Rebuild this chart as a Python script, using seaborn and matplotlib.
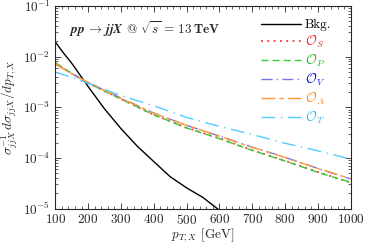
import numpy as np
import pandas as pd
import matplotlib
matplotlib.use("Agg")
import matplotlib.pyplot as plt
import seaborn as sns
from matplotlib.ticker import MultipleLocator, LogLocator, NullFormatter

# Data (pT in GeV, normalised distribution)
pt_bkg = [100, 125, 150, 175, 200, 250, 300, 350, 400, 450, 500, 550, 600]
bkg = [1.95e-2, 1.175e-2, 7.4e-3, 4.37e-3, 2.57e-3, 9.3e-4, 3.8e-4, 1.7e-4,
       8.5e-5, 4.27e-5, 2.57e-5, 1.66e-5, 9.3e-6]

pt_sig = [100, 150, 200, 300, 400, 500, 600, 700, 800, 900, 1000]
o_s = [7.4e-3, 4.6e-3, 3.0e-3, 1.45e-3, 7.1e-4, 3.95e-4, 2.45e-4, 1.42e-4, 8.8e-5, 5.3e-5, 3.25e-5]
o_p = [7.6e-3, 4.7e-3, 3.0e-3, 1.45e-3, 7.1e-4, 3.9e-4, 2.4e-4, 1.41e-4, 8.7e-5, 5.2e-5, 3.3e-5]
o_v = [7.1e-3, 4.6e-3, 3.1e-3, 1.52e-3, 7.7e-4, 4.4e-4, 2.7e-4, 1.63e-4, 1.03e-4, 6.2e-5, 3.85e-5]
o_a = [7.2e-3, 4.6e-3, 3.1e-3, 1.5e-3, 7.6e-4, 4.4e-4, 2.7e-4, 1.62e-4, 1.02e-4, 6.2e-5, 3.9e-5]

pt_t = [100, 150, 200, 250, 300, 400, 500, 600, 700, 800, 900, 1000]
o_t = [4.9e-3, 3.9e-3, 2.95e-3, 2.24e-3, 1.7e-3, 1.07e-3, 6.3e-4, 4.2e-4, 2.9e-4, 1.95e-4, 1.38e-4, 9.5e-5]

sns.set_style("ticks")
plt.rcParams.update({
    "font.family": "serif",
    "font.serif": ["cmr10", "DejaVu Serif"],
    "mathtext.fontset": "cm",
    "axes.formatter.use_mathtext": True,
    "font.size": 9.5,
    "axes.linewidth": 0.8,
    "xtick.direction": "in",
    "ytick.direction": "in",
    "xtick.top": True,
    "ytick.right": True,
})

fig = plt.figure(figsize=(3.66, 2.44), dpi=100)
ax = fig.add_axes([0.151, 0.145, 0.807, 0.831])

series = [
    ("Bkg.", pt_bkg, bkg, "black", "-", "black", 1.0),
    (r"$\mathcal{O}_S$", pt_sig, o_s, "#ff3333", (0, (1, 2.5)), "#ff2222", 1.3),
    (r"$\mathcal{O}_P$", pt_sig, o_p, "#33cc33", (0, (5, 3)), "#22bb22", 1.0),
    (r"$\mathcal{O}_V$", pt_sig, o_v, "#7777ee", (0, (8, 3, 1, 3)), "#1111dd", 1.0),
    (r"$\mathcal{O}_A$", pt_sig, o_a, "#ff9933", (0, (10, 3, 3, 3)), "#ff8822", 1.0),
    (r"$\mathcal{O}_T$", pt_t, o_t, "#55ccff", (0, (10, 4, 1, 4)), "#33bbee", 1.0),
]

text_colors = []
for label, xs, ys, col, ls, tcol, lw in series:
    df = pd.DataFrame({"pt": xs, "val": ys})
    sns.lineplot(data=df, x="pt", y="val", color=col, linestyle=ls, lw=lw,
                 label=label, ax=ax)
    text_colors.append(tcol)

ax.set_yscale("log")
ax.set_xlim(100, 1000)
ax.set_ylim(1e-5, 1e-1)
ax.xaxis.set_major_locator(MultipleLocator(100))
ax.xaxis.set_minor_locator(MultipleLocator(20))
ax.yaxis.set_major_locator(LogLocator(base=10, numticks=10))
ax.yaxis.set_minor_locator(LogLocator(base=10, subs=np.arange(2, 10), numticks=20))
ax.yaxis.set_minor_formatter(NullFormatter())
ax.tick_params(which="major", length=4, width=0.6, labelsize=9.5)
ax.tick_params(which="minor", length=2, width=0.5)

ax.set_xlabel(r"$p_{T,X}$ [GeV]", fontsize=9.5, labelpad=-1)
ax.set_ylabel(r"$\sigma_{jjX}^{-1}\, d\sigma_{jjX}/dp_{T,X}$", fontsize=9.5, labelpad=2)

ax.text(0.045, 0.885,
        r"$\boldsymbol{pp}\,\boldsymbol{\to}\,\boldsymbol{jjX}$ @ "
        r"$\boldsymbol{\sqrt{s}}\,\mathbf{=\,13\,TeV}$",
        transform=ax.transAxes, fontsize=9.5, va="center", ha="left")

leg = ax.legend(loc="upper right", frameon=False, fontsize=9.5, handlelength=3.0,
                handletextpad=0.3, labelspacing=0.2, borderaxespad=0.3,
                bbox_to_anchor=(0.966, 0.98))
for txt, tcol in zip(leg.get_texts(), text_colors):
    txt.set_color(tcol)

fig.savefig("out.png", dpi=100)
